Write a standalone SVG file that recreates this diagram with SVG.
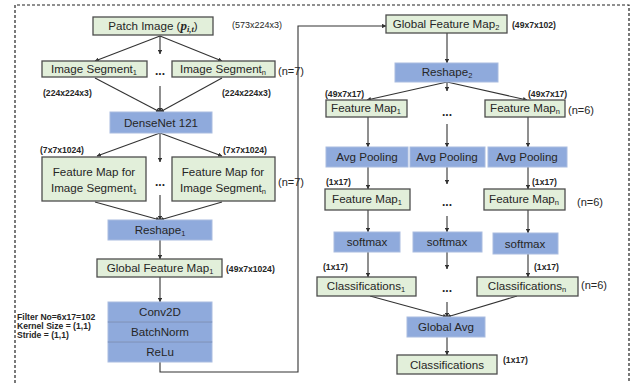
<svg xmlns="http://www.w3.org/2000/svg" width="643" height="383" viewBox="0 0 643 383">
<defs>
<style>
text{font-family:"Liberation Sans","DejaVu Sans",sans-serif;fill:#262626}
.g{fill:#e2efda;stroke:#4d4d4d;stroke-width:1.3}
.b{fill:#8faadc;stroke:#a9bce0;stroke-width:1}
.t{font-size:11.6px;text-anchor:middle}
.s{font-size:7.5px}
.lb{font-size:8.6px;font-weight:bold}
.ln{font-size:9px}
.n{font-size:11px}
.dots{font-size:12px;font-weight:bold;text-anchor:middle}
.c line,.c polyline{stroke:#333;stroke-width:1.1;fill:none}
</style>
<marker id="a" viewBox="0 0 6 6" refX="5.5" refY="3" markerWidth="4" markerHeight="4" orient="auto"><path d="M0,0 L6,3 L0,6z" fill="#333"/></marker>
</defs>
<rect width="643" height="383" fill="#fff"/>
<path d="M15,388 V5 H629 V388" fill="none" stroke="#222" stroke-width="1.2" stroke-dasharray="3,2"/>

<g class="c">
<line x1="160" y1="36" x2="95" y2="61" marker-end="url(#a)"/>
<line x1="160" y1="36" x2="222" y2="61" marker-end="url(#a)"/>
<line x1="160" y1="36" x2="160" y2="54" marker-end="url(#a)"/>
<line x1="95" y1="78" x2="160" y2="112" marker-end="url(#a)"/>
<line x1="222" y1="78" x2="160" y2="112" marker-end="url(#a)"/>
<line x1="160" y1="86" x2="160" y2="112" marker-end="url(#a)"/>
<line x1="160" y1="133" x2="97" y2="156" marker-end="url(#a)"/>
<line x1="160" y1="133" x2="222" y2="156" marker-end="url(#a)"/>
<line x1="160" y1="133" x2="160" y2="162" marker-end="url(#a)"/>
<line x1="95" y1="202" x2="160" y2="220" marker-end="url(#a)"/>
<line x1="222" y1="202" x2="160" y2="220" marker-end="url(#a)"/>
<line x1="160" y1="195" x2="160" y2="220" marker-end="url(#a)"/>
<line x1="160" y1="240" x2="160" y2="259" marker-end="url(#a)"/>
<line x1="160" y1="277" x2="160" y2="302" marker-end="url(#a)"/>
<polyline points="160,362 160,372 298,372 298,26 386,26" marker-end="url(#a)"/>
<line x1="447" y1="33" x2="447" y2="63" marker-end="url(#a)"/>
<line x1="447" y1="82" x2="367" y2="100" marker-end="url(#a)"/>
<line x1="447" y1="82" x2="527" y2="100" marker-end="url(#a)"/>
<line x1="447" y1="82" x2="447" y2="91" marker-end="url(#a)"/>
<line x1="368" y1="117" x2="368" y2="147" marker-end="url(#a)"/>
<line x1="447" y1="124" x2="447" y2="147" marker-end="url(#a)"/>
<line x1="528" y1="117" x2="528" y2="147" marker-end="url(#a)"/>
<line x1="368" y1="167" x2="368" y2="189" marker-end="url(#a)"/>
<line x1="447" y1="167" x2="447" y2="184" marker-end="url(#a)"/>
<line x1="528" y1="167" x2="528" y2="189" marker-end="url(#a)"/>
<line x1="368" y1="210" x2="368" y2="232" marker-end="url(#a)"/>
<line x1="447" y1="216" x2="447" y2="232" marker-end="url(#a)"/>
<line x1="528" y1="210" x2="528" y2="233" marker-end="url(#a)"/>
<line x1="368" y1="252" x2="368" y2="277" marker-end="url(#a)"/>
<line x1="447" y1="252" x2="447" y2="269" marker-end="url(#a)"/>
<line x1="528" y1="254" x2="528" y2="277" marker-end="url(#a)"/>
<line x1="370" y1="296" x2="447" y2="317" marker-end="url(#a)"/>
<line x1="517" y1="296" x2="447" y2="317" marker-end="url(#a)"/>
<line x1="447" y1="302" x2="447" y2="317" marker-end="url(#a)"/>
<line x1="447" y1="337" x2="447" y2="355" marker-end="url(#a)"/>
</g>

<g id="patch"><rect class="g" x="93" y="17" width="120" height="18"/><text class="t" x="153" y="30">Patch Image (<tspan font-family="'Liberation Serif',serif" font-style="italic" font-weight="bold" font-size="13">p</tspan><tspan font-family="'Liberation Serif',serif" font-style="italic" font-weight="bold" font-size="8.5" dy="2">i,t</tspan><tspan dy="-2">)</tspan></text><text class="ln" x="232" y="28">(573x224x3)</text></g>

<g id="seg1"><rect class="g" x="42" y="61" width="105" height="16"/><text class="t" x="94" y="73">Image Segment<tspan class="s" dy="2">1</tspan></text><text class="lb" x="43" y="96">(224x224x3)</text></g>
<g id="segn"><rect class="g" x="172" y="61" width="103" height="16"/><text class="t" x="223" y="73">Image Segment<tspan class="s" dy="2">n</tspan></text><text class="lb" x="222" y="96">(224x224x3)</text><text class="n" x="278" y="75">(n=7)</text></g>
<text class="dots" x="160" y="75">...</text>

<g id="densenet"><rect class="b" x="110" y="112" width="102" height="21"/><text class="t" x="161" y="127">DenseNet 121</text></g>

<g id="fm1"><rect class="g" x="42" y="157" width="104" height="44"/><text class="t" x="94" y="176">Feature Map for</text><text class="t" x="94" y="192">Image Segment<tspan class="s" dy="2">1</tspan></text><text class="lb" x="40" y="153">(7x7x1024)</text></g>
<g id="fmn"><rect class="g" x="172" y="157" width="103" height="44"/><text class="t" x="223" y="176">Feature Map for</text><text class="t" x="223" y="192">Image Segment<tspan class="s" dy="2">n</tspan></text><text class="lb" x="223" y="153">(7x7x1024)</text><text class="n" x="278" y="186">(n=7)</text></g>
<text class="dots" x="160" y="186">...</text>

<g id="reshape1"><rect class="b" x="108" y="220" width="104" height="20"/><text class="t" x="160" y="234">Reshape<tspan class="s" dy="2">1</tspan></text></g>

<g id="gfm1"><rect class="g" x="97" y="259" width="125" height="18"/><text class="t" x="160" y="272">Global Feature Map<tspan class="s" dy="2">1</tspan></text><text class="lb" x="226" y="272">(49x7x1024)</text></g>

<g id="conv"><rect class="b" x="108" y="302" width="104" height="20"/><rect class="b" x="108" y="322" width="104" height="20"/><rect class="b" x="108" y="342" width="104" height="20"/><path d="M108,322H212M108,342H212" stroke="#6f86b3" stroke-width="1"/><text class="t" x="160" y="316">Conv2D</text><text class="t" x="160" y="336">BatchNorm</text><text class="t" x="160" y="356">ReLu</text>
<text class="lb" x="17" y="320">Filter No=6x17=102</text><text class="lb" x="17" y="329">Kernel Size = (1,1)</text><text class="lb" x="17" y="338">Stride = (1,1)</text></g>

<g id="gfm2"><rect class="g" x="386" y="15" width="121" height="18"/><text class="t" x="446" y="28">Global Feature Map<tspan class="s" dy="2">2</tspan></text><text class="lb" x="512" y="28">(49x7x102)</text></g>

<g id="reshape2"><rect class="b" x="395" y="63" width="103" height="19"/><text class="t" x="447" y="76">Reshape<tspan class="s" dy="2">2</tspan></text></g>

<g id="fmap1a"><rect class="g" x="326" y="100" width="81" height="17"/><text class="t" x="366" y="112">Feature Map<tspan class="s" dy="2">1</tspan></text><text class="lb" x="325" y="97">(49x7x17)</text></g>
<g id="fmapna"><rect class="g" x="485" y="100" width="80" height="17"/><text class="t" x="525" y="112">Feature Map<tspan class="s" dy="2">n</tspan></text><text class="lb" x="528" y="97">(49x7x17)</text><text class="n" x="568" y="114">(n=6)</text></g>
<text class="dots" x="447" y="116">...</text>

<g id="avg1"><rect class="b" x="326" y="147" width="82" height="20"/><text class="t" x="367" y="161">Avg Pooling</text></g>
<g id="avg2"><rect class="b" x="410" y="147" width="75" height="20"/><text class="t" x="447" y="161">Avg Pooling</text></g>
<g id="avg3"><rect class="b" x="488" y="147" width="79" height="20"/><text class="t" x="527" y="161">Avg Pooling</text></g>

<g id="fmap1b"><rect class="g" x="325" y="189" width="85" height="21"/><text class="t" x="367" y="203">Feature Map<tspan class="s" dy="2">1</tspan></text><text class="lb" x="326" y="185">(1x17)</text></g>
<g id="fmapnb"><rect class="g" x="484" y="189" width="81" height="21"/><text class="t" x="524" y="203">Feature Map<tspan class="s" dy="2">n</tspan></text><text class="lb" x="532" y="185">(1x17)</text><text class="n" x="577" y="206">(n=6)</text></g>
<text class="dots" x="447" y="206">...</text>

<g id="soft1"><rect class="b" x="334" y="232" width="66" height="20"/><text class="t" x="367" y="246">softmax</text></g>
<g id="soft2"><rect class="b" x="413" y="232" width="69" height="20"/><text class="t" x="447" y="246">softmax</text></g>
<g id="soft3"><rect class="b" x="493" y="233" width="65" height="21"/><text class="t" x="525" y="248">softmax</text></g>

<g id="cls1"><rect class="g" x="317" y="277" width="99" height="19"/><text class="t" x="366" y="290">Classifications<tspan class="s" dy="2">1</tspan></text><text class="lb" x="323" y="270">(1x17)</text></g>
<g id="clsn"><rect class="g" x="477" y="277" width="101" height="19"/><text class="t" x="527" y="290">Classifications<tspan class="s" dy="2">n</tspan></text><text class="lb" x="534" y="270">(1x17)</text><text class="n" x="581" y="289">(n=6)</text></g>
<text class="dots" x="447" y="292">...</text>

<g id="gavg"><rect class="b" x="407" y="317" width="78" height="20"/><text class="t" x="446" y="331">Global Avg</text></g>

<g id="cls"><rect class="g" x="397" y="355" width="100" height="19"/><text class="t" x="447" y="369">Classifications</text><text class="lb" x="503" y="363">(1x17)</text></g>
</svg>
